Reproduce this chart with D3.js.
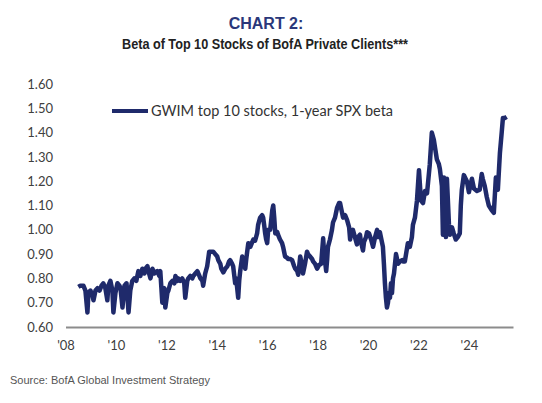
<!DOCTYPE html>
<html>
<head>
<meta charset="utf-8">
<script src="https://cdn.jsdelivr.net/npm/d3@7"></script>
<style>
  body { margin: 0; background: #fff; }
  svg { display: block; }
  .axis text { font-family: Lato, "Open Sans", sans-serif; font-size: 13px; fill: #404040; }
</style>
</head>
<body>
<div id="chart"></div>
<script>
// decimal years, read against the '08..'24 tick labels of the picture
const dates = [
  2008.51, 2008.59, 2008.71, 2008.79, 2008.87, 2008.91, 2008.99, 2009.07, 2009.11, 2009.19,
  2009.27, 2009.35, 2009.43, 2009.50, 2009.58, 2009.66, 2009.70, 2009.78, 2009.86, 2009.90,
  2009.98, 2010.06, 2010.14, 2010.18, 2010.26, 2010.34, 2010.42, 2010.50, 2010.57, 2010.65,
  2010.73, 2010.81, 2010.89, 2010.97, 2011.05, 2011.13, 2011.17, 2011.25, 2011.29, 2011.37,
  2011.45, 2011.52, 2011.64, 2011.72, 2011.76, 2011.84, 2011.92, 2011.96, 2012.04, 2012.08,
  2012.16, 2012.24, 2012.32, 2012.36, 2012.44, 2012.47, 2012.55, 2012.63, 2012.71, 2012.75,
  2012.83, 2012.87, 2012.95, 2013.03, 2013.07, 2013.15, 2013.23, 2013.31, 2013.35, 2013.43,
  2013.46, 2013.54, 2013.62, 2013.70, 2013.78, 2013.86, 2013.94, 2014.02, 2014.06, 2014.14,
  2014.18, 2014.26, 2014.34, 2014.42, 2014.49, 2014.53, 2014.61, 2014.65, 2014.73, 2014.77,
  2014.85, 2014.89, 2014.93, 2014.97, 2015.01, 2015.09, 2015.13, 2015.17, 2015.25, 2015.33,
  2015.41, 2015.45, 2015.52, 2015.60, 2015.64, 2015.72, 2015.80, 2015.84, 2015.88, 2015.92,
  2015.96, 2016.00, 2016.04, 2016.12, 2016.20, 2016.24, 2016.28, 2016.32, 2016.40, 2016.43,
  2016.51, 2016.59, 2016.63, 2016.71, 2016.79, 2016.83, 2016.91, 2016.99, 2017.07, 2017.11,
  2017.19, 2017.23, 2017.27, 2017.31, 2017.39, 2017.42, 2017.50, 2017.58, 2017.62, 2017.70,
  2017.78, 2017.82, 2017.90, 2017.98, 2018.06, 2018.14, 2018.22, 2018.26, 2018.34, 2018.38,
  2018.41, 2018.49, 2018.57, 2018.61, 2018.69, 2018.77, 2018.85, 2018.89, 2018.93, 2019.01,
  2019.09, 2019.17, 2019.25, 2019.29, 2019.33, 2019.40, 2019.48, 2019.56, 2019.60, 2019.68,
  2019.72, 2019.80, 2019.84, 2019.92, 2019.96, 2020.04, 2020.12, 2020.20, 2020.28, 2020.36,
  2020.40, 2020.47, 2020.55, 2020.59, 2020.63, 2020.67, 2020.71, 2020.75, 2020.79, 2020.83,
  2020.87, 2020.91, 2020.95, 2020.99, 2021.03, 2021.11, 2021.19, 2021.27, 2021.35, 2021.38,
  2021.46, 2021.58, 2021.66, 2021.74, 2021.78, 2021.86, 2021.94, 2022.02, 2022.10, 2022.18,
  2022.26, 2022.34, 2022.45, 2022.53, 2022.61, 2022.73, 2022.81, 2022.85, 2022.93, 2022.97,
  2023.01, 2023.09, 2023.13, 2023.21, 2023.25, 2023.33, 2023.40, 2023.48, 2023.56, 2023.64,
  2023.68, 2023.72, 2023.80, 2023.92, 2024.00, 2024.12, 2024.20, 2024.32, 2024.43, 2024.51,
  2024.55, 2024.63, 2024.71, 2024.79, 2024.91, 2024.99, 2025.07, 2025.15, 2025.23, 2025.31,
  2025.35, 2025.42, 2025.50
];

const beta = [
  0.765, 0.77, 0.77, 0.75, 0.66, 0.74, 0.75, 0.73, 0.71, 0.75,
  0.76, 0.75, 0.77, 0.78, 0.76, 0.71, 0.77, 0.79, 0.75, 0.66,
  0.74, 0.78, 0.77, 0.76, 0.68, 0.77, 0.78, 0.66, 0.75, 0.79,
  0.80, 0.79, 0.83, 0.81, 0.84, 0.82, 0.84, 0.85, 0.83, 0.80,
  0.84, 0.82, 0.83, 0.81, 0.83, 0.70, 0.76, 0.68, 0.74, 0.75,
  0.78, 0.79, 0.78, 0.81, 0.79, 0.80, 0.79, 0.80, 0.78, 0.72,
  0.79, 0.80, 0.81, 0.80, 0.81, 0.82, 0.83, 0.81, 0.80, 0.79,
  0.77, 0.82, 0.85, 0.91, 0.91, 0.91, 0.90, 0.89, 0.875, 0.86,
  0.84, 0.825, 0.84, 0.85, 0.87, 0.875, 0.86, 0.85, 0.78, 0.80,
  0.72, 0.79, 0.83, 0.86, 0.89, 0.86, 0.84, 0.88, 0.945, 0.93,
  0.95, 0.96, 0.955, 0.985, 1.02, 1.05, 1.06, 1.05, 1.02, 0.985,
  0.96, 0.945, 1.00, 1.00, 1.08, 1.10, 1.05, 0.985, 0.99, 0.98,
  0.96, 0.945, 0.93, 0.89, 0.885, 0.88, 0.88, 0.875, 0.85, 0.84,
  0.83, 0.815, 0.85, 0.89, 0.85, 0.82, 0.86, 0.91, 0.90, 0.89,
  0.88, 0.87, 0.86, 0.84, 0.855, 0.86, 0.965, 0.90, 0.83, 0.88,
  0.93, 0.96, 1.00, 1.03, 1.05, 1.09, 1.11, 1.11, 1.09, 1.05,
  1.06, 1.04, 1.01, 0.96, 0.99, 1.00, 0.97, 0.94, 0.97, 0.98,
  0.95, 0.915, 0.95, 0.97, 0.99, 0.985, 0.96, 0.93, 0.97, 1.00,
  0.97, 0.99, 0.95, 0.93, 0.86, 0.78, 0.72, 0.68, 0.70, 0.74,
  0.72, 0.78, 0.74, 0.80, 0.82, 0.90, 0.86, 0.87, 0.875, 0.87,
  0.87, 0.945, 0.93, 0.97, 1.02, 1.05, 1.12, 1.245, 1.12, 1.11,
  1.16, 1.15, 1.27, 1.40, 1.37, 1.29, 1.27, 1.25, 1.18, 0.98,
  1.215, 0.97, 1.21, 1.02, 0.98, 1.01, 0.985, 0.96, 0.97, 0.985,
  1.10, 1.165, 1.225, 1.20, 1.155, 1.21, 1.17, 1.16, 1.165, 1.23,
  1.21, 1.18, 1.135, 1.10, 1.08, 1.07, 1.215, 1.165, 1.315, 1.41,
  1.46, 1.46, 1.465
];

const xTicks = [2008, 2010, 2012, 2014, 2016, 2018, 2020, 2022, 2024];
const yTicks = [0.6, 0.7, 0.8, 0.9, 1.0, 1.1, 1.2, 1.3, 1.4, 1.5, 1.6];

const seriesName = 'GWIM top 10 stocks, 1-year SPX beta';
const navy = '#1f2a6b';

const width = 542, height = 403;

const x = d3.scaleLinear().domain([2008, 2025.75]).range([65.5, 513]);
const y = d3.scaleLinear().domain([0.6, 1.6]).range([327, 84]);

const svg = d3.select('#chart').append('svg')
  .attr('width', width)
  .attr('height', height);

// titles
svg.append('text')
  .attr('x', 266).attr('y', 29)
  .attr('text-anchor', 'middle')
  .attr('font-family', '"Liberation Sans", Arial, sans-serif')
  .attr('font-weight', 700)
  .attr('font-size', 16)
  .attr('fill', '#2a377a')
  .text('CHART 2:');

// condensed bold subtitle: squeeze to the width it has in the reference
svg.append('text')
  .attr('x', 122).attr('y', 49)
  .attr('font-family', '"Liberation Sans", Arial, sans-serif')
  .attr('font-weight', 700)
  .attr('font-size', 14)
  .attr('fill', '#222')
  .attr('textLength', 286)
  .attr('lengthAdjust', 'spacingAndGlyphs')
  .text('Beta of Top 10 Stocks of BofA Private Clients***');

// y axis labels only
svg.append('g')
  .attr('class', 'axis')
  .attr('transform', 'translate(66,0)')
  .call(d3.axisLeft(y).tickValues(yTicks).tickFormat(d3.format('.2f')).tickSize(0).tickPadding(13))
  .call(g => g.select('.domain').remove());

// x axis with grey baseline
svg.append('g')
  .attr('class', 'axis')
  .attr('transform', `translate(0,${y(0.6)})`)
  .call(d3.axisBottom(x).tickValues(xTicks).tickFormat(d => "'" + String(d).slice(2)).tickSize(0).tickPadding(14))
  .call(g => g.select('.domain').attr('stroke', '#8c8c8c').attr('stroke-width', 2));

// series
const points = dates.map((d, i) => [d, beta[i]]);
svg.append('path')
  .datum(points)
  .attr('fill', 'none')
  .attr('stroke', navy)
  .attr('stroke-width', 4.5)
  .attr('stroke-linejoin', 'round')
  .attr('d', d3.line().x(d => x(d[0])).y(d => y(d[1])));

// legend
const legend = svg.append('g').attr('transform', 'translate(112,111)');
legend.append('line')
  .attr('x1', 0).attr('x2', 36)
  .attr('stroke', navy)
  .attr('stroke-width', 4);
legend.append('text')
  .attr('x', 39).attr('y', 5)
  .attr('font-family', 'Lato, "Open Sans", sans-serif')
  .attr('font-size', 14.5)
  .attr('fill', '#333')
  .text(seriesName);

// source
svg.append('text')
  .attr('x', 10).attr('y', 384)
  .attr('font-family', '"Liberation Sans", Arial, sans-serif')
  .attr('font-size', 11)
  .attr('fill', '#555')
  .text('Source: BofA Global Investment Strategy');
</script>
</body>
</html>
